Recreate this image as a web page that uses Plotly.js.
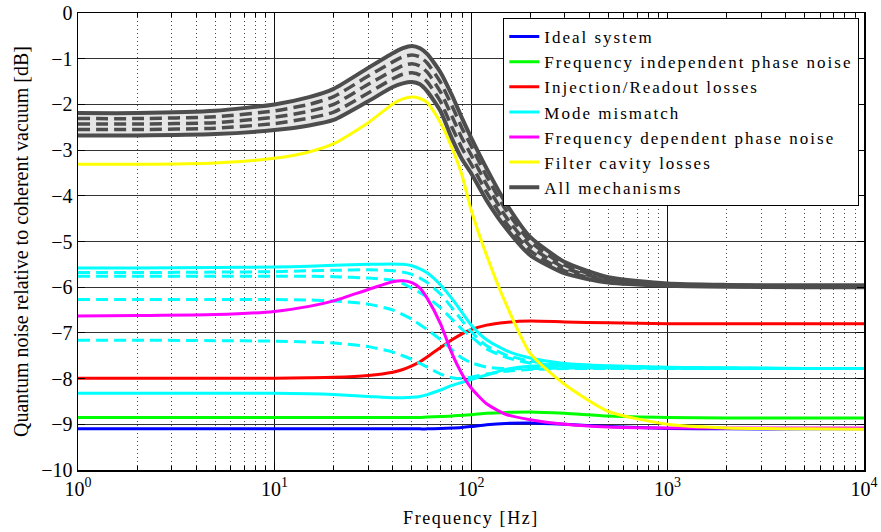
<!DOCTYPE html>
<html>
<head>
<meta charset="utf-8">
<script src="https://cdn.plot.ly/plotly-3.0.1.min.js"></script>
<style>
html,body{margin:0;padding:0;background:#fff;}
#chart{width:881px;height:532px;}
.legendtext{letter-spacing:2px;}
.xtitle{letter-spacing:1.6px;}
</style>
</head>
<body>
<div id="chart"></div>
<script>
// Frequency grid [Hz]
const freq = [1, 2, 5, 10, 15, 20, 30, 40, 45, 50, 55, 60, 70, 80, 90, 100, 120, 150, 200, 300, 500, 1000, 2000, 5000, 10000];

// Series [dB]
const idealSystem = [-9.1,-9.1,-9.1,-9.1,-9.1,-9.1,-9.1,-9.1,-9.1,-9.1,-9.1,-9.1,-9.09,-9.08,-9.07,-9.05,-9.01,-8.98,-8.97,-9.0,-9.05,-9.09,-9.1,-9.1,-9.1];
const freqIndepPhase = [-8.85,-8.85,-8.85,-8.85,-8.85,-8.85,-8.85,-8.85,-8.85,-8.85,-8.85,-8.84,-8.83,-8.82,-8.8,-8.79,-8.76,-8.74,-8.73,-8.76,-8.82,-8.85,-8.86,-8.86,-8.86];
const injReadLosses = [-7.99,-7.99,-7.99,-7.99,-7.98,-7.97,-7.93,-7.86,-7.8,-7.72,-7.63,-7.52,-7.32,-7.15,-7.02,-6.93,-6.83,-6.77,-6.74,-6.76,-6.78,-6.8,-6.8,-6.8,-6.8];
const modeMismatchA = [-5.58,-5.58,-5.57,-5.56,-5.54,-5.52,-5.5,-5.49,-5.5,-5.53,-5.6,-5.69,-5.95,-6.25,-6.55,-6.82,-7.15,-7.38,-7.55,-7.67,-7.72,-7.75,-7.77,-7.78,-7.78];
const modeMismatchB = [-5.68,-5.68,-5.67,-5.66,-5.64,-5.63,-5.62,-5.64,-5.67,-5.72,-5.8,-5.9,-6.15,-6.45,-6.73,-6.97,-7.28,-7.48,-7.62,-7.7,-7.74,-7.76,-7.77,-7.78,-7.78];
const modeMismatchC = [-5.76,-5.76,-5.76,-5.76,-5.76,-5.77,-5.8,-5.85,-5.92,-6.02,-6.12,-6.22,-6.45,-6.7,-6.92,-7.08,-7.35,-7.53,-7.66,-7.72,-7.75,-7.77,-7.78,-7.78,-7.78];
const modeMismatchD = [-6.27,-6.27,-6.27,-6.27,-6.28,-6.3,-6.37,-6.5,-6.6,-6.7,-6.82,-6.93,-7.15,-7.37,-7.55,-7.65,-7.75,-7.78,-7.78,-7.77,-7.77,-7.77,-7.78,-7.78,-7.78];
const modeMismatchE = [-7.16,-7.16,-7.17,-7.18,-7.2,-7.22,-7.3,-7.42,-7.5,-7.58,-7.67,-7.75,-7.9,-7.98,-8.0,-7.97,-7.9,-7.84,-7.8,-7.78,-7.78,-7.78,-7.78,-7.78,-7.78];
const modeMismatchF = [-8.32,-8.32,-8.32,-8.32,-8.33,-8.35,-8.39,-8.42,-8.42,-8.41,-8.39,-8.35,-8.25,-8.15,-8.08,-8.02,-7.92,-7.8,-7.73,-7.72,-7.74,-7.76,-7.77,-7.78,-7.78];
const freqDepPhase = [-6.63,-6.62,-6.6,-6.53,-6.42,-6.3,-6.05,-5.88,-5.86,-5.9,-6.02,-6.25,-6.8,-7.45,-7.9,-8.2,-8.55,-8.78,-8.9,-9.0,-9.06,-9.08,-9.08,-9.08,-9.08];
const filterCavity = [-3.31,-3.31,-3.28,-3.18,-3.04,-2.86,-2.4,-1.99,-1.88,-1.84,-1.87,-1.96,-2.4,-2.95,-3.55,-4.3,-5.3,-6.35,-7.45,-8.13,-8.72,-9.0,-9.08,-9.1,-9.11];
const allTop = [-2.19,-2.19,-2.14,-2.0,-1.84,-1.66,-1.2,-0.88,-0.77,-0.72,-0.77,-0.9,-1.3,-1.8,-2.3,-2.72,-3.4,-4.15,-4.9,-5.45,-5.78,-5.92,-5.95,-5.96,-5.96];
const allD1 = [-2.31,-2.31,-2.27,-2.14,-2.0,-1.83,-1.38,-1.07,-0.96,-0.92,-0.96,-1.1,-1.52,-2.03,-2.52,-2.9,-3.57,-4.3,-5.0,-5.52,-5.81,-5.94,-5.96,-5.97,-5.97];
const allD2 = [-2.43,-2.43,-2.4,-2.28,-2.15,-2.0,-1.56,-1.26,-1.15,-1.11,-1.16,-1.3,-1.73,-2.26,-2.74,-3.1,-3.75,-4.45,-5.1,-5.58,-5.84,-5.95,-5.97,-5.98,-5.98];
const allD3 = [-2.55,-2.55,-2.52,-2.42,-2.3,-2.17,-1.75,-1.44,-1.34,-1.31,-1.36,-1.51,-1.94,-2.5,-2.96,-3.3,-3.92,-4.58,-5.2,-5.64,-5.87,-5.96,-5.98,-5.99,-5.99];
const allBottom = [-2.68,-2.68,-2.65,-2.56,-2.46,-2.34,-1.93,-1.62,-1.54,-1.51,-1.56,-1.72,-2.15,-2.75,-3.2,-3.5,-4.1,-4.7,-5.3,-5.7,-5.9,-5.97,-5.99,-6.0,-6.0];

const names = ['Ideal system','Frequency independent phase noise','Injection/Readout losses','Mode mismatch','Frequency dependent phase noise','Filter cavity losses','All mechanisms'];
const xTickVals = [1, 10, 100, 1000, 10000];
const xTickText = ['10<sup>0</sup>','10<sup>1</sup>','10<sup>2</sup>','10<sup>3</sup>','10<sup>4</sup>'];

const minorVals = [];
for (let k = 0; k < 4; k++) for (let m = 2; m <= 9; m++) minorVals.push(m * Math.pow(10, k));

const DASH = '12px,6px';
function ln(color, width, dash) {
  const o = {color: color, width: width, shape: 'spline', smoothing: 0.6};
  if (dash) o.dash = dash;
  return o;
}
function tr(y, line, opts) {
  return Object.assign({
    x: freq, y: y, type: 'scatter', mode: 'lines', line: line,
    showlegend: false, hoverinfo: 'skip'
  }, opts || {});
}
const gray = '#4d4d4d';
const cyan = '#00ffff';
const traces = [
  tr(idealSystem, ln('#0000ff', 3), {name: names[0], showlegend: true, legendrank: 1}),
  tr(freqIndepPhase, ln('#00ff00', 3), {name: names[1], showlegend: true, legendrank: 2}),
  tr(injReadLosses, ln('#ff0000', 3), {name: names[2], showlegend: true, legendrank: 3}),
  tr(modeMismatchA, ln(cyan, 3), {name: names[3], showlegend: true, legendrank: 4}),
  tr(modeMismatchB, ln(cyan, 3, DASH)),
  tr(modeMismatchC, ln(cyan, 3, DASH)),
  tr(modeMismatchD, ln(cyan, 3, DASH)),
  tr(modeMismatchE, ln(cyan, 3, DASH)),
  tr(modeMismatchF, ln(cyan, 3)),
  tr(freqDepPhase, ln('#ff00ff', 3), {name: names[4], showlegend: true, legendrank: 5}),
  tr(filterCavity, ln('#ffff00', 3), {name: names[5], showlegend: true, legendrank: 6}),
  tr(allTop, ln(gray, 4), {name: names[6], showlegend: true, legendrank: 7}),
  tr(allBottom, ln(gray, 4), {fill: 'tonexty', fillcolor: '#e6e6e6'}),
  tr(allD1, ln(gray, 3.5, DASH)),
  tr(allD2, ln(gray, 3.5, DASH)),
  tr(allD3, ln(gray, 3.5, DASH))
];

const fam = 'Liberation Serif, Times New Roman, serif';
const layout = {
  width: 881, height: 532,
  margin: {l: 78, r: 17, t: 13, b: 62},
  paper_bgcolor: '#fff', plot_bgcolor: '#fff',
  font: {family: fam, size: 20, color: '#000'},
  showlegend: true,
  legend: {
    x: 0.994, y: 0.989, xanchor: 'right', yanchor: 'top',
    bgcolor: '#fff', bordercolor: '#000', borderwidth: 1,
    font: {family: fam, size: 17, color: '#000'},
    traceorder: 'normal', itemwidth: 30
  },
  xaxis: {
    type: 'log', range: [0, 4],
    tickmode: 'array', tickvals: xTickVals, ticktext: xTickText,
    showgrid: true, gridcolor: '#111', gridwidth: 1,
    ticks: 'inside', ticklen: 7, tickcolor: '#000',
    showline: true, linecolor: '#000', linewidth: 1.5, mirror: 'ticks',
    zeroline: false,
    minor: {tickmode: 'array', tickvals: minorVals, showgrid: true, griddash: '1px,3px', gridcolor: '#444', gridwidth: 1, ticks: 'inside', ticklen: 4, tickcolor: '#000'},
    tickfont: {family: fam, size: 20, color: '#000'},
    title: {text: 'Frequency [Hz]', font: {family: fam, size: 18, color: '#000'}, standoff: 13}
  },
  yaxis: {
    range: [-10, 0], tick0: 0, dtick: 1,
    showgrid: true, gridcolor: '#333', gridwidth: 1,
    ticks: 'inside', ticklen: 7, tickcolor: '#000',
    showline: true, linecolor: '#000', linewidth: 1.5, mirror: 'ticks',
    zeroline: false,
    tickfont: {family: fam, size: 20, color: '#000'},
    title: {text: 'Quantum noise relative to coherent vacuum [dB]', font: {family: fam, size: 20, color: '#000'}, standoff: 7}
  }
};

Plotly.newPlot('chart', traces, layout, {displayModeBar: false, staticPlot: true});
</script>
</body>
</html>
